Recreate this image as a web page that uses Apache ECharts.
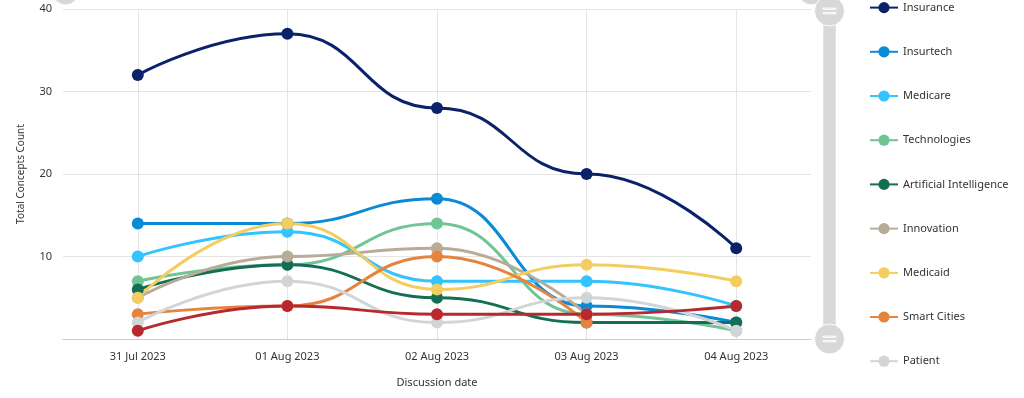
<!DOCTYPE html>
<html>
<head>
<meta charset="utf-8">
<script src="https://cdn.jsdelivr.net/npm/echarts@6/dist/echarts.min.js"></script>
<style>
html,body{margin:0;padding:0;background:#fff;}
#chart{width:1024px;height:398px;}
</style>
</head>
<body>
<div id="chart"></div>
<script>
var categories = ['31 Jul 2023', '01 Aug 2023', '02 Aug 2023', '03 Aug 2023', '04 Aug 2023'];
var insurance = [32, 37, 28, 20, 11];
var insurtech = [14, 14, 17, 4, 2];
var medicare = [10, 13, 7, 7, 4];
var technologies = [7, 9, 14, 3, 1];
var artificialIntelligence = [6, 9, 5, 2, 2];
var innovation = [5, 10, 11, 3, null];
var medicaid = [5, 14, 6, 9, 7];
var smartCities = [3, 4, 10, 2, null];
var patient = [2, 7, 2, 5, 1];
var health = [1, 4, 3, 3, 4];
var yTicks = [0, 10, 20, 30, 40];

var seriesDefs = [
  ['Insurance', insurance, '#0b226b'],
  ['Insurtech', insurtech, '#0a8ad4'],
  ['Medicare', medicare, '#33c3ff'],
  ['Technologies', technologies, '#70c595'],
  ['Artificial Intelligence', artificialIntelligence, '#146e54'],
  ['Innovation', innovation, '#b8ab98'],
  ['Medicaid', medicaid, '#f3cd5f'],
  ['Smart Cities', smartCities, '#e5843f'],
  ['Patient', patient, '#d2d5d8'],
  ['Health', health, '#b8292f']
];

var FONT = 'Noto Sans';
var vHandle = 'path://M0,-10A10,10,0,1,1,0,10A10,10,0,1,1,0,-10Z M-1.9,-4.3L-1.1,-4.3L-1.1,4.3L-1.9,4.3Z M1.1,-4.3L1.9,-4.3L1.9,4.3L1.1,4.3Z';
var hHandle = 'path://M0,-10A10,10,0,1,1,0,10A10,10,0,1,1,0,-10Z';

var chart = echarts.init(document.getElementById('chart'));
var option = {
  animation: false,
  backgroundColor: '#fff',
  textStyle: { fontFamily: FONT },
  grid: { left: 63, right: 213, top: 9, bottom: 59 },
  legend: {
    orient: 'vertical',
    left: 869,
    top: 2,
    padding: 0,
    itemWidth: 28,
    itemHeight: 14,
    itemGap: 33,
    textStyle: { fontFamily: FONT, fontSize: 11, color: '#333' },
    data: seriesDefs.map(function (d) { return d[0]; })
  },
  xAxis: [{
    type: 'category',
    data: categories,
    boundaryGap: true,
    name: 'Discussion date',
    nameLocation: 'middle',
    nameGap: 38,
    nameTextStyle: { fontFamily: FONT, fontSize: 11, color: '#333' },
    axisLine: { lineStyle: { color: '#cccccc', width: 1 } },
    axisTick: { show: false },
    axisLabel: { fontFamily: FONT, fontSize: 11, color: '#333', margin: 12 },
    splitLine: { show: false }
  }, {
    type: 'category',
    data: ['', '', '', '', '', '', '', '', '', '', ''],
    boundaryGap: false,
    position: 'top',
    axisLine: { show: false },
    axisTick: { show: false },
    axisLabel: { show: false },
    splitLine: {
      show: true,
      interval: function (i) { return i % 2 === 1; },
      lineStyle: { color: '#e4e4e4', width: 1 }
    }
  }],
  yAxis: {
    type: 'value',
    min: yTicks[0],
    max: yTicks[yTicks.length - 1],
    interval: 10,
    name: 'Total Concepts Count',
    nameLocation: 'middle',
    nameGap: 37,
    nameTextStyle: { fontFamily: FONT, fontSize: 10, color: '#333' },
    axisLine: { show: false },
    axisTick: { show: false },
    axisLabel: {
      fontFamily: FONT, fontSize: 11, color: '#333', margin: 11,
      formatter: function (v) { return v === 0 ? '' : String(v); }
    },
    splitLine: { lineStyle: { color: '#e4e4e4', width: 1 } }
  },
  dataZoom: [{
    type: 'slider',
    xAxisIndex: 0,
    filterMode: 'none',
    start: 0, end: 100,
    left: 63, right: 213, top: -14, height: 12,
    showDetail: false, showDataShadow: false, brushSelect: false,
    moveHandleSize: 0,
    backgroundColor: '#d9d9d9', fillerColor: '#d9d9d9', borderColor: 'transparent',
    handleIcon: hHandle, handleSize: 26,
    handleStyle: { color: '#d8d8d8', borderColor: '#fff', borderWidth: 1 }
  }, {
    type: 'slider',
    yAxisIndex: 0,
    orient: 'vertical',
    filterMode: 'none',
    start: 0, end: 100,
    left: 823, top: 10, bottom: 58, width: 12,
    showDetail: false, showDataShadow: false, brushSelect: false,
    moveHandleSize: 0,
    backgroundColor: '#d9d9d9', fillerColor: '#d9d9d9', borderColor: 'transparent',
    handleIcon: vHandle, handleSize: 30,
    handleStyle: { color: '#d8d8d8', borderColor: '#fff', borderWidth: 1 }
  }],
  series: seriesDefs.map(function (d) {
    return {
      name: d[0],
      type: 'line',
      data: d[1],
      smooth: 0.5,
      smoothMonotone: 'x',
      symbol: 'circle',
      symbolSize: 12,
      showSymbol: true,
      color: d[2],
      lineStyle: { width: 3, color: d[2] },
      itemStyle: { color: d[2] }
    };
  })
};
chart.setOption(option);
</script>
</body>
</html>
